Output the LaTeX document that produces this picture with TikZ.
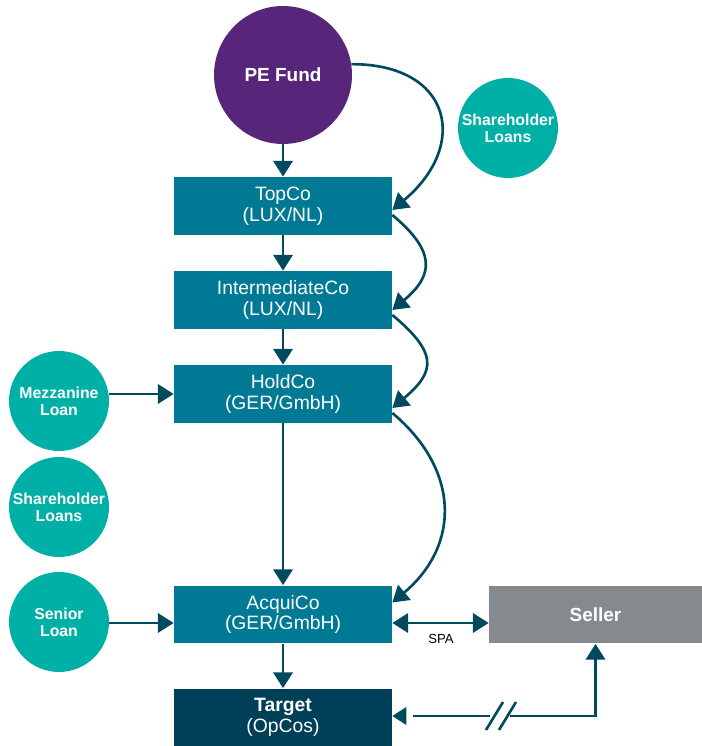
\documentclass[tikz,border=0pt]{standalone}
\usepackage{fontspec}
\setmainfont{Liberation Sans}
\usetikzlibrary{arrows.meta}
\usetikzlibrary{calc}

\definecolor{pefund}{HTML}{57267A}
\definecolor{loanteal}{HTML}{00B0A6}
\definecolor{companyblue}{HTML}{007A94}
\definecolor{opco}{HTML}{003F58}
\definecolor{sellergray}{HTML}{858A8E}
\definecolor{linkcol}{HTML}{004A60}

\begin{document}
\begin{tikzpicture}[x=0.02cm,y=0.02cm,
    company/.style={fill=companyblue, text=white, minimum width=4.36cm, minimum height=1.16cm,
        inner sep=0pt, align=center, font=\fontsize{11}{11.8}\selectfont},
    loan/.style={circle, fill=loanteal, text=white, minimum size=2cm, inner sep=0pt,
        align=center, font=\bfseries\fontsize{9}{9.8}\selectfont},
    link/.style={draw=linkcol, line width=1.5pt, -{Triangle[length=9pt,width=11pt]}}]
    \useasboundingbox (0,0) rectangle (702,746);

    % 节点
    \node[circle, fill=pefund, minimum size=2.76cm, inner sep=0pt, text=white,
        font=\bfseries\fontsize{10.8}{12}\selectfont] (pe) at (283,671) {PE Fund};
    \node[loan] (sl1) at (508,618) {Shareholder\\Loans};
    \node[company] (topco) at (283,540) {TopCo\\(LUX/NL)};
    \node[company] (interco) at (283,446) {IntermediateCo\\(LUX/NL)};
    \node[company] (holdco) at (283,352) {HoldCo\\(GER/GmbH)};
    \node[company] (acquico) at (283,131.5) {AcquiCo\\(GER/GmbH)};
    \node[company, fill=opco] (target) at (283,28.5) {\textbf{Target}\\(OpCos)};
    \node[company, fill=sellergray, minimum width=4.26cm,
        font=\bfseries\fontsize{10.8}{12}\selectfont] (seller) at (595.5,131.5) {Seller};
    \node[loan] (mezz) at (59,345) {Mezzanine\\Loan};
    \node[loan] (sl2) at (59,239) {Shareholder\\Loans};
    \node[loan] (senior) at (59,124) {Senior\\Loan};

    % 主干箭头
    \draw[link] (pe) -- (topco);
    \draw[link] (topco) -- (interco);
    \draw[link] (interco) -- (holdco);
    \draw[link] (holdco) -- (acquico);
    \draw[link] (acquico) -- (target);

    % 右侧弧线
    \draw[link] (pe.9) to[out=0,in=40,looseness=1.7] ($(topco.east)+(0,-4)$);
    \draw[link] ($(topco.east)+(0,-9)$) to[out=-40,in=40,looseness=1.5] ($(interco.east)+(0,-10)$);
    \draw[link] ($(interco.east)+(0,-15)$) to[out=-40,in=40,looseness=1.6] ($(holdco.east)+(0,-14)$);
    \draw[link] ($(holdco.east)+(0,-19)$) to[out=-40,in=40,looseness=1.2] ($(acquico.east)+(0,12)$);

    % 贷款
    \coordinate (spa) at (0,123);
    \draw[link] (mezz.east |- holdco.west) -- (holdco.west);
    \draw[link] (senior.east |- spa) -- (acquico.west |- spa);

    % SPA
    \draw[link, {Triangle[length=9pt,width=11pt]}-{Triangle[length=9pt,width=11pt]}]
        (acquico.east |- spa) -- (seller.west |- spa);
    \node[font=\fontsize{7.5}{9}\selectfont] (spalabel) at (441,107) {SPA};

    % 断开的连线
    \coordinate (brkL) at (490,30);
    \coordinate (brkR) at (510,30);
    \draw[link] (brkR) -| (seller.south);
    \draw[linkcol, line width=1.5pt] (brkL) -- (413,30);
    \fill[linkcol] (target.east |- brkL) -- ++(14,9) -- ++(0,-18) -- cycle;
    \draw[linkcol, line width=1.5pt] (486,16) -- (503,44);
    \draw[linkcol, line width=1.5pt] (499,16) -- (516,44);
\end{tikzpicture}
\end{document}
